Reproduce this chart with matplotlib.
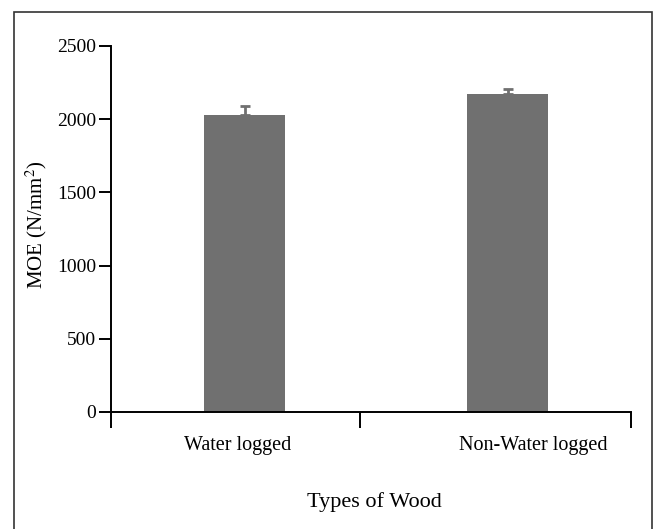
import matplotlib
matplotlib.use("Agg")
import matplotlib.pyplot as plt
from matplotlib.patches import Rectangle

# data
wood_types = ["Water logged", "Non-Water logged"]
moe_mean = [2030, 2175]
moe_err = [60, 30]
yticks = [0, 500, 1000, 1500, 2000, 2500]

plt.rcParams["font.family"] = ["Liberation Serif", "DejaVu Serif"]
plt.rcParams["mathtext.fontset"] = "stix"

W, H = 654, 529
fig = plt.figure(figsize=(W / 100, H / 100), dpi=100)

# axes box in pixels: y-spine at x=111, right end 631, zero at y=412, top at y=46
left, right, bottom, top = 111, 631, 412, 46
ax = fig.add_axes([left / W, (H - bottom) / H, (right - left) / W, (bottom - top) / H])

# bars centred at 0 and 1, 263 px apart
px = 263.0
c0 = 244.5
xpos = [0, 1]
bar_color = "#707070"
ax.bar(xpos, moe_mean, width=81 / px, color=bar_color, zorder=2)
ax.errorbar(xpos, moe_mean, yerr=[[0, 0], moe_err], fmt="none",
            ecolor=bar_color, elinewidth=2, capsize=3.5, capthick=2, zorder=3)

ax.set_xlim((left - c0) / px, (right - c0) / px)
ax.set_ylim(0, 2500)

ax.spines["top"].set_visible(False)
ax.spines["right"].set_visible(False)
for s in ["left", "bottom"]:
    ax.spines[s].set_linewidth(1.4)

ax.set_yticks(yticks)
ax.set_yticklabels([str(v) for v in yticks], fontsize=14)
ax.tick_params(axis="y", direction="out", length=8.5, width=1.4, pad=2)

# boundary tick marks below the x axis
ax.set_xticks([(left - c0) / px, (360 - c0) / px, (right - c0) / px])
ax.set_xticklabels(["", "", ""])
ax.tick_params(axis="x", which="major", direction="out", length=11.5, width=1.4)

# category labels
label_x = [(238 - c0) / px, (533 - c0) / px]
ax.set_xticks(label_x, minor=True)
ax.set_xticklabels(wood_types, minor=True, fontsize=14.5)
ax.tick_params(axis="x", which="minor", length=0, pad=17)

fig.text(374.5 / W, (H - 507) / H, "Types of Wood", fontsize=16,
         ha="center", va="baseline")
fig.text(36 / W, (H - 225) / H, "MOE (N/mm$^2$)", fontsize=15,
         rotation=90, ha="center", va="center")

# frame around the whole figure (open at the bottom edge of the picture)
fig.patches.append(Rectangle((14 / W, -5 / H), (652 - 14) / W, (H - 11.5 + 5) / H,
                             transform=fig.transFigure, fill=False,
                             edgecolor="#333333", linewidth=1.2))

fig.savefig("out.png", dpi=100)
